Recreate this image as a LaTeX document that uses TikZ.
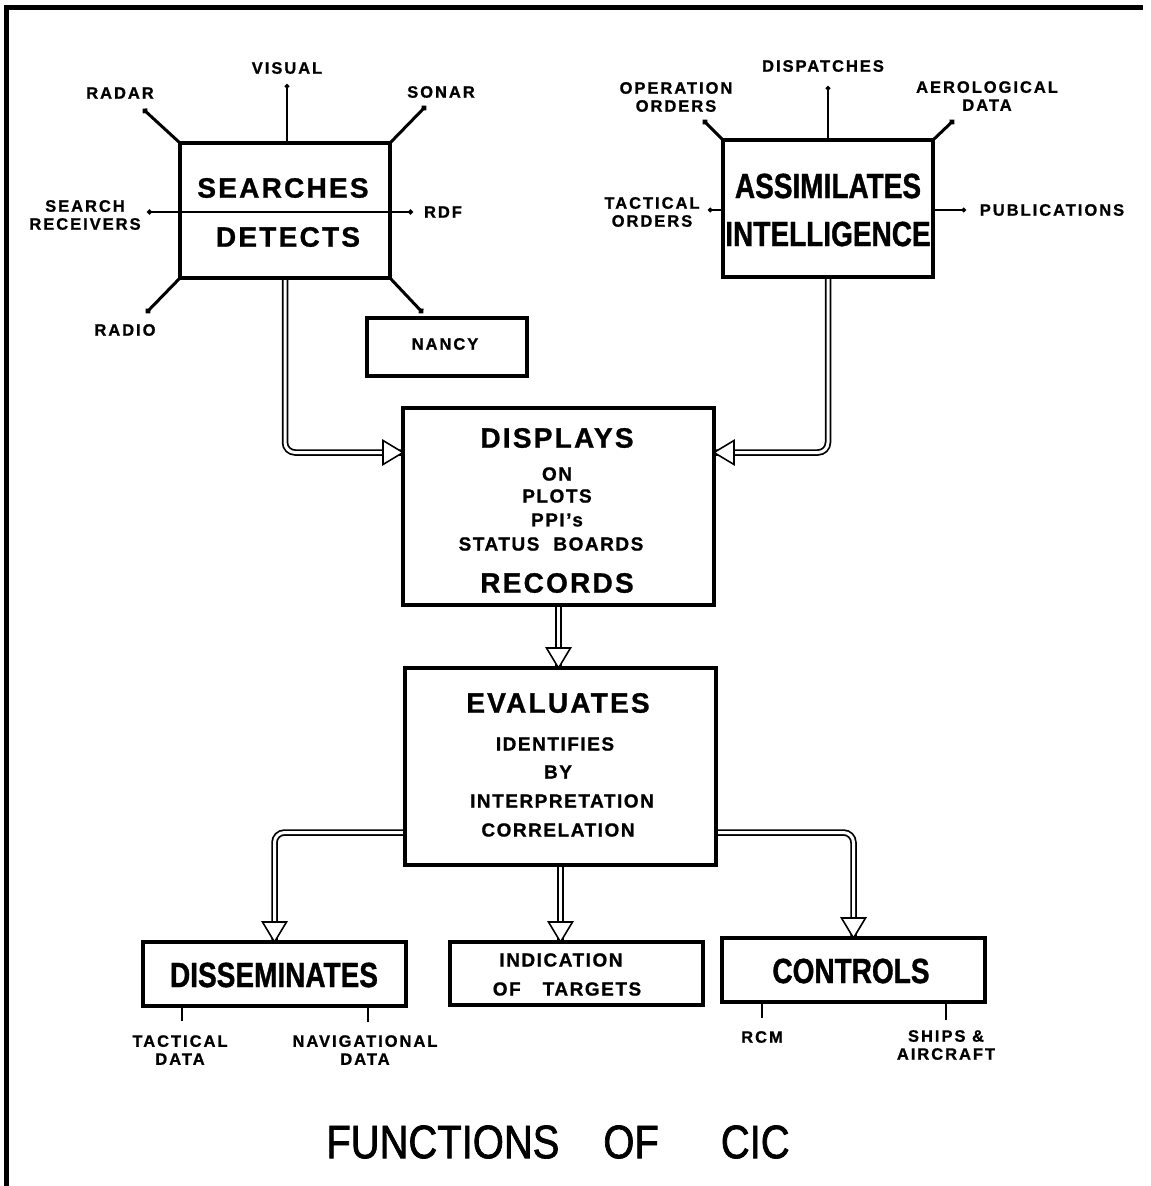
\documentclass[tikz,border=0pt]{standalone}
\usepackage{fontspec}
\setmainfont{Liberation Sans}[LetterSpace=8, BoldFeatures={FakeBold=1}]
\newfontfamily\lblfont{Liberation Sans}[LetterSpace=12, BoldFeatures={FakeBold=1}]
\newfontfamily\condfont{Liberation Sans}[FakeStretch=0.8, BoldFeatures={FakeBold=1}]
\newfontfamily\titlefont{Liberation Sans}[FakeStretch=0.85, FakeBold=1.5]
\usetikzlibrary{arrows.meta,decorations.markings,backgrounds}

\newcommand{\bigtxt}{\fontsize{28}{30}\selectfont\bfseries}
\newcommand{\condtxt}{\condfont\fontsize{35}{38}\selectfont\bfseries}
\newcommand{\midtxt}{\fontsize{19}{21}\selectfont\bfseries}
\newcommand{\lbltxt}{\lblfont\fontsize{16.5}{18}\selectfont\bfseries}

\begin{document}
\begin{tikzpicture}[x=1pt, y=-1pt,
  box/.style={draw, line width=3.2pt, inner sep=0pt, outer sep=0pt},
  txt/.style={inner sep=0pt},
  spoke/.style={line width=3pt, {Circle[length=5.5pt]}-},
  thin spoke/.style={line width=1.6pt, {Circle[length=4.5pt]}-},
  tick/.style={line width=2pt},
  frame/.style={line width=5pt},
  dbl/.style={white, line width=3pt, rounded corners=10pt,
    preaction={draw=black, line width=6.5pt},
    postaction={decorate, decoration={markings, mark=at position 1 with
      {\draw[black, fill=white, line width=1.6pt, sharp corners, line join=miter]
        (0pt,0pt) -- (-20pt,12pt) -- (-20pt,-12pt) -- cycle;}}}}]

\useasboundingbox (0,0) rectangle (1151,1186);
\draw[frame] (6,1190) |- (1143,7);

\node[box, minimum width=210pt, minimum height=135pt] (srch) at (285,210.5) {};
\node[box, minimum width=210pt, minimum height=137pt] (asm) at (828,208.5) {};
\node[box, minimum width=160pt, minimum height=58pt] (nan) at (447,347) {};
\node[box, minimum width=311pt, minimum height=197pt] (disp) at (558.5,506.5) {};
\node[box, minimum width=311pt, minimum height=197pt] (evl) at (560.5,766.5) {};
\node[box, minimum width=263pt, minimum height=64pt] (diss) at (274.5,974) {};
\node[box, minimum width=253pt, minimum height=63pt] (ind) at (576.5,973.5) {};
\node[box, minimum width=263pt, minimum height=64pt] (ctl) at (853.5,970) {};

\node[txt, font=\bigtxt] (srch_t1) at (283,188) {SEARCHES};
\node[txt, font=\bigtxt] (srch_t2) at (288,237) {DETECTS};
\node[txt, font=\condtxt] (asm_t1) at (828,186) {ASSIMILATES};
\node[txt, font=\condtxt] (asm_t2) at (828,234) {INTELLIGENCE};
\node[txt, font=\lbltxt] (nan_t) at (445,344) {NANCY};
\node[txt, font=\bigtxt] (disp_t1) at (557,438) {DISPLAYS};
\node[txt, font=\midtxt] (disp_t2) at (557,474) {ON};
\node[txt, font=\midtxt] (disp_t3) at (557,496) {PLOTS};
\node[txt, font=\midtxt] (disp_t4) at (557,520) {PPI's};
\node[txt, font=\midtxt] (disp_t5) at (551,544) {STATUS\hspace{14pt}BOARDS};
\node[txt, font=\bigtxt] (disp_t6) at (557,583) {RECORDS};
\node[txt, font=\bigtxt] (evl_t1) at (558,703) {EVALUATES};
\node[txt, font=\midtxt] (evl_t2) at (555,744) {IDENTIFIES};
\node[txt, font=\midtxt] (evl_t3) at (558,772) {BY};
\node[txt, font=\midtxt] (evl_t4) at (562,801) {INTERPRETATION};
\node[txt, font=\midtxt] (evl_t5) at (558,830) {CORRELATION};
\node[txt, font=\condtxt] (diss_t) at (274,975) {DISSEMINATES};
\node[txt, font=\midtxt] (ind_t1) at (561,960) {INDICATION};
\node[txt, font=\midtxt] (ind_t2) at (567,989) {OF\hspace{22pt}TARGETS};
\node[txt, font=\condtxt] (ctl_t) at (851,971) {CONTROLS};

\node[txt, font=\lbltxt] (vis) at (287,68) {VISUAL};
\node[txt, font=\lbltxt] (rad) at (120,93) {RADAR};
\node[txt, font=\lbltxt] (son) at (441,92) {SONAR};
\node[txt, font=\lbltxt] (rdo) at (125,330) {RADIO};
\node[txt, font=\lbltxt, align=center] (rcv) at (85,215) {SEARCH\\RECEIVERS};
\node[txt, font=\lbltxt] (rdf) at (443,212) {RDF};
\coordinate (vis_e) at (287,84);
\coordinate (rad_e) at (143,109);
\coordinate (son_e) at (426,106);
\coordinate (rdo_e) at (146,313);
\coordinate (nan_e) at (423,313);
\coordinate (rcv_e) at (147,212);
\coordinate (rdf_e) at (413,212);
\draw[thin spoke] (vis_e) -- (vis_e |- srch.north);
\draw[spoke] (rad_e) -- (srch.north west);
\draw[spoke] (son_e) -- (srch.north east);
\draw[spoke] (rdo_e) -- (srch.south west);
\draw[spoke] (nan_e) -- (srch.south east);
\draw[line width=2.2pt, {Circle[length=5pt]}-{Circle[length=5pt]}] (rcv_e) -- (rdf_e);

\node[txt, font=\lbltxt] (dspch) at (823,66) {DISPATCHES};
\node[txt, font=\lbltxt, align=center] (opo) at (676,97) {OPERATION\\ORDERS};
\node[txt, font=\lbltxt, align=center] (aer) at (987,96) {AEROLOGICAL\\DATA};
\node[txt, font=\lbltxt, align=center] (tco) at (652,212) {TACTICAL\\ORDERS};
\node[txt, font=\lbltxt] (pub) at (1052,210) {PUBLICATIONS};
\coordinate (dspch_e) at (828,86);
\coordinate (opo_e) at (703,120);
\coordinate (aer_e) at (954,120);
\coordinate (tco_e) at (708,210);
\coordinate (pub_e) at (966,210);
\draw[thin spoke] (dspch_e) -- (dspch_e |- asm.north);
\draw[spoke] (opo_e) -- (asm.north west);
\draw[spoke] (aer_e) -- (asm.north east);
\draw[thin spoke] (tco_e) -- (tco_e -| asm.west);
\draw[thin spoke] (pub_e) -- (pub_e -| asm.east);

\node[txt, font=\lbltxt, align=center] (tcd) at (180,1050) {TACTICAL\\DATA};
\node[txt, font=\lbltxt, align=center] (nvd) at (365,1050) {NAVIGATIONAL\\DATA};
\node[txt, font=\lbltxt] (rcm) at (762,1037) {RCM};
\node[txt, font=\lbltxt, align=center] (shp) at (946,1045) {SHIPS \&\\AIRCRAFT};
\coordinate (tcd_e) at (182,1021);
\coordinate (nvd_e) at (368,1022);
\coordinate (rcm_e) at (762,1018);
\coordinate (shp_e) at (946,1020);
\draw[tick] (tcd_e |- diss.south) -- (tcd_e);
\draw[tick] (nvd_e |- diss.south) -- (nvd_e);
\draw[tick] (rcm_e |- ctl.south) -- (rcm_e);
\draw[tick] (shp_e |- ctl.south) -- (shp_e);

\begin{scope}[on background layer]
\draw[dbl] (srch.south) |- ([yshift=54pt]disp.west);
\draw[dbl] (asm.south) |- ([yshift=54pt]disp.east);
\draw[dbl] (disp.south) -- (disp.south |- evl.north);
\draw[dbl] ([yshift=-66pt]evl.west) -| (diss.north);
\draw[dbl] (evl.south) -- (evl.south |- ind.north);
\draw[dbl] ([yshift=-66pt]evl.east) -| (ctl.north);
\end{scope}

\node[txt, font=\titlefont\fontsize{47}{50}\selectfont] (ttl) at (558,1142) {FUNCTIONS\hspace{44pt}OF\hspace{62pt}CIC};
\end{tikzpicture}
\end{document}
